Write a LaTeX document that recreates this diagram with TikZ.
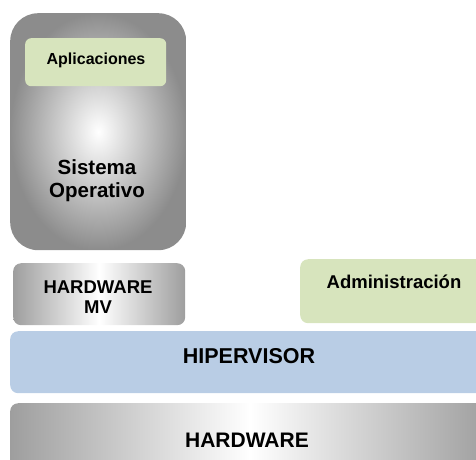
\documentclass[tikz,border=0pt]{standalone}
\usepackage{fontspec}
\setmainfont{Liberation Sans}
\usetikzlibrary{shapes,positioning}

\begin{document}
\begin{tikzpicture}[x=1pt,y=-1pt,
  capa/.style={rectangle,anchor=north west,inner sep=0pt,rounded corners=8pt},
  txt/.style={font=\bfseries,align=center,text=black}]
\clip (0,0) rectangle (476,459);
% maquina virtual
\node [capa,minimum width=176pt,minimum height=237pt,rounded corners=28pt,
       inner color=white,outer color=black!45] (so) at (10,13) {};
\node [capa,minimum width=141pt,minimum height=48pt,rounded corners=6pt,
       fill={rgb,255:red,215;green,228;blue,189}] (apps) at (25,38) {};
\node [txt,font=\bfseries\fontsize{16}{19}\selectfont] (appstxt) at (96,60) {Aplicaciones};
\node [txt,font=\bfseries\fontsize{20.5}{23}\selectfont] (sotxt) at (97,181) {Sistema\\Operativo};
\node [capa,minimum width=172pt,minimum height=62pt,
       left color=black!38,right color=black!38,middle color=white] (hwmv) at (13,263) {};
\node [txt,font=\bfseries\fontsize{18.5}{20}\selectfont] (hwmvtxt) at (98,297) {HARDWARE\\MV};
% administracion
\node [capa,minimum width=190pt,minimum height=64pt,
       fill={rgb,255:red,215;green,228;blue,189}] (admin) at (300,259) {};
\node [txt,font=\bfseries\fontsize{18.5}{21}\selectfont] (admintxt) at (394,282) {Administración};
% capas de abajo
\node [capa,minimum width=480pt,minimum height=62pt,
       fill={rgb,255:red,185;green,205;blue,229}] (hv) at (10,331) {};
\node [txt,font=\bfseries\fontsize{21.5}{24}\selectfont] (hvtxt) at (249,356) {HIPERVISOR};
\node [capa,minimum width=480pt,minimum height=70pt,
       left color=black!38,right color=black!38,middle color=white] (hw) at (10,403) {};
\node [txt,font=\bfseries\fontsize{21}{24}\selectfont] (hwtxt) at (247,440) {HARDWARE};
\end{tikzpicture}
\end{document}
